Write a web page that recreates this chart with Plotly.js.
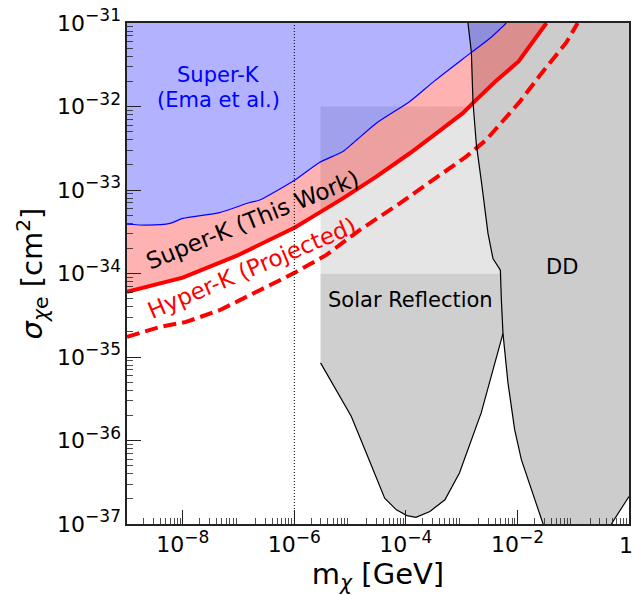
<!DOCTYPE html>
<html>
<head>
<meta charset="utf-8">
<script src="https://cdn.plot.ly/plotly-3.0.1.min.js"></script>
<style>html,body{margin:0;padding:0;background:#fff;}#chart{width:634px;height:595px;}</style>
</head>
<body>
<div id="chart"></div>
<script>
// ---- data (log10 values) ----
const emaLogM = [-9.0, -8.65, -8.23, -8.0, -7.34, -6.80, -6.62, -5.99, -5.55, -5.13, -4.95, -4.53, -3.93, -3.48, -2.86, -2.47, -2.20];
const emaLogS = [-33.41, -33.42, -33.40, -33.34, -33.27, -33.15, -33.12, -32.88, -32.67, -32.54, -32.44, -32.20, -31.94, -31.69, -31.37, -31.17, -31.0];

const skLogM = [-9.0, -8.0, -7.04, -5.99, -5.72, -5.13, -4.53, -3.93, -3.45, -2.98, -2.74, -2.38, -1.98, -1.72, -1.48];
const skLogS = [-34.22, -34.05, -33.79, -33.45, -33.34, -33.10, -32.84, -32.56, -32.32, -32.08, -31.92, -31.69, -31.46, -31.23, -31.0];

const hkLogM = [-9.0, -8.41, -7.94, -7.34, -6.62, -5.99, -5.43, -4.83, -4.11, -3.51, -2.92, -2.56, -1.96, -1.60, -1.12, -0.92];
const hkLogS = [-34.76, -34.64, -34.58, -34.44, -34.20, -33.99, -33.78, -33.48, -33.16, -32.88, -32.60, -32.40, -31.945, -31.63, -31.23, -31.0];

const solarBoxLogM = [-5.53, -2.26, -2.26, -5.53];
const solarBoxLogS = [-32.0, -32.0, -34.0, -34.0];

const solarULogM = [-5.53, -4.98, -4.71, -4.38, -4.17, -3.98, -3.82, -3.57, -3.30, -3.04, -2.65, -2.26];
const solarULogS = [-35.07, -35.71, -36.15, -36.69, -36.83, -36.90, -36.92, -36.85, -36.71, -36.39, -35.67, -34.72];
const solarUTopLogS = -34.0;

const ddLogM = [-2.887, -2.826, -2.797, -2.736, -2.646, -2.569, -2.528, -2.439, -2.306, -2.288, -2.259, -2.17, -2.05, -1.93, -1.72, -1.54];
const ddLogS = [-31.0, -31.35, -31.95, -32.46, -32.90, -33.30, -33.52, -33.82, -33.96, -34.32, -34.72, -35.31, -35.87, -36.23, -36.63, -37.0];
const ddCornerLogM = [-0.316, 0.0];
const ddCornerLogS = [-37.0, -36.67];

const vlineLogM = -6;

const xLabelDecades = [-8, -6, -4, -2];
const xTickLabels = ['10|−8', '10|−6', '10|−4', '10|−2'];
const xUnlabeledDecades = [-9, -7, -5, -3, -1, 0];
const xEndLabel = '1';
const yDecades = [-37, -36, -35, -34, -33, -32, -31];
const yTickLabels = ['10|−37', '10|−36', '10|−35', '10|−34', '10|−33', '10|−32', '10|−31'];

// ---- helpers ----
const P = v => Math.pow(10, v);
const arr = a => a.map(P);
const X_MIN = -9, X_MAX = 0, Y_MIN = -37, Y_MAX = -31;

function fmtTick(s) {
  if (s.indexOf('|') < 0) return s;
  const parts = s.split('|');
  return parts[0] + '<sup><span style="font-size:17px">' + parts[1] + '</span></sup>';
}

function minorVals(lo, hi) {
  const out = [];
  for (let d = lo; d < hi; d++) {
    for (let k = 2; k <= 9; k++) out.push(k * P(d));
  }
  return out;
}

const FONT = 'DejaVu Sans';
const traces = [];

// Solar reflection upper (light) box
traces.push({x: arr(solarBoxLogM), y: arr(solarBoxLogS), mode: 'none', fill: 'toself',
  fillcolor: '#e5e5e5', hoverinfo: 'skip', showlegend: false});
// Solar reflection lower U region
{
  const polyX = [P(solarULogM[0]), P(solarULogM[solarULogM.length - 1])].concat(arr(solarULogM).reverse());
  const polyY = [P(solarUTopLogS), P(solarUTopLogS)].concat(arr(solarULogS).reverse());
  traces.push({x: polyX, y: polyY, mode: 'none', fill: 'toself', fillcolor: '#cfcfcf',
    hoverinfo: 'skip', showlegend: false});
}
// DD region
{
  const polyX = arr(ddLogM).concat(arr(ddCornerLogM), [P(X_MAX)]);
  const polyY = arr(ddLogS).concat(arr(ddCornerLogS), [P(Y_MAX)]);
  traces.push({x: polyX, y: polyY, mode: 'none', fill: 'toself', fillcolor: '#cccccc',
    hoverinfo: 'skip', showlegend: false});
}
// Blue region (Ema et al.)
traces.push({x: arr(emaLogM).concat([P(X_MIN)]), y: arr(emaLogS).concat([P(Y_MAX)]),
  mode: 'none', fill: 'toself', fillcolor: 'rgba(0,0,255,0.3)', hoverinfo: 'skip', showlegend: false});
// Red band (this work)
traces.push({x: arr(skLogM).concat(arr(emaLogM).reverse()), y: arr(skLogS).concat(arr(emaLogS).reverse()),
  mode: 'none', fill: 'toself', fillcolor: 'rgba(255,0,0,0.3)', hoverinfo: 'skip', showlegend: false});

// Lines
traces.push({x: arr(emaLogM), y: arr(emaLogS), mode: 'lines', line: {color: '#0000ff', width: 1.2, shape: 'spline', smoothing: 0.6},
  hoverinfo: 'skip', showlegend: false});
traces.push({x: arr(skLogM), y: arr(skLogS), mode: 'lines', line: {color: '#ff0000', width: 4},
  hoverinfo: 'skip', showlegend: false});
traces.push({x: arr(hkLogM), y: arr(hkLogS), mode: 'lines', line: {color: '#ff0000', width: 4, dash: '13px,6px'},
  hoverinfo: 'skip', showlegend: false});
traces.push({x: arr(solarULogM), y: arr(solarULogS), mode: 'lines', line: {color: '#000', width: 1.2},
  hoverinfo: 'skip', showlegend: false});
traces.push({x: arr(ddLogM), y: arr(ddLogS), mode: 'lines', line: {color: '#000', width: 1.2},
  hoverinfo: 'skip', showlegend: false});
traces.push({x: arr(ddCornerLogM), y: arr(ddCornerLogS), mode: 'lines', line: {color: '#000', width: 1.2},
  hoverinfo: 'skip', showlegend: false});
traces.push({x: [P(vlineLogM), P(vlineLogM)], y: [P(Y_MIN), P(Y_MAX)], mode: 'lines',
  line: {color: '#000', width: 1, dash: '1px,2px'}, hoverinfo: 'skip', showlegend: false});

// ---- layout ----
const ML = 127, MR = 5, MT = 23, MB = 71, W = 634, H = 595;
const PW = W - ML - MR, PH = H - MT - MB;
const px = x => (x - ML) / PW;
const py = y => (H - MB - y) / PH;

function ann(text, x, y, size, color, angle) {
  return {text: text, xref: 'paper', yref: 'paper', x: px(x), y: py(y), xanchor: 'center', yanchor: 'middle',
    showarrow: false, textangle: angle || 0, font: {family: FONT, size: size, color: color}};
}

const axisCommon = {
  type: 'log', showgrid: false, zeroline: false, showline: true, mirror: true,
  linecolor: '#222', linewidth: 1.6, ticks: 'inside', ticklen: 14, tickwidth: 1, tickcolor: '#222',
  tickfont: {family: FONT, size: 22, color: '#000'}, tickmode: 'array'
};

const layout = {
  width: W, height: H, margin: {l: ML, r: MR, t: MT, b: MB},
  paper_bgcolor: '#fff', plot_bgcolor: '#fff', showlegend: false,
  xaxis: Object.assign({}, axisCommon, {
    range: [X_MIN, X_MAX], tickvals: arr(xLabelDecades), ticktext: xTickLabels.map(fmtTick),
    minor: {ticks: 'inside', ticklen: 6, tickwidth: 0.8, tickcolor: '#222', tickmode: 'array', tickvals: minorVals(X_MIN, X_MAX)},
    title: {text: 'm<sub><i>χ</i></sub> [GeV]', font: {family: FONT, size: 29, color: '#000'}, standoff: 6}
  }),
  xaxis2: {
    type: 'log', overlaying: 'x', anchor: 'y', side: 'bottom', range: [X_MIN, X_MAX],
    showgrid: false, zeroline: false, showline: false, showticklabels: false,
    ticks: 'inside', ticklen: 14, tickwidth: 1, tickcolor: '#222', tickmode: 'array', tickvals: arr(xUnlabeledDecades)
  },
  yaxis: Object.assign({}, axisCommon, {
    range: [Y_MIN, Y_MAX], tickvals: arr(yDecades), ticktext: yTickLabels.map(fmtTick),
    minor: {ticks: 'inside', ticklen: 6, tickwidth: 0.8, tickcolor: '#222', tickmode: 'array', tickvals: minorVals(Y_MIN, Y_MAX)},
    title: {text: '<i>σ</i><sub><i>χ</i>e</sub> [cm<sup>2</sup>]', font: {family: FONT, size: 29, color: '#000'}, standoff: 6}
  }),
  annotations: [
    ann('Super-K', 218.6, 75, 21, '#0000ff'),
    ann('(Ema et al.)', 218.6, 100, 21, '#0000ff'),
    ann('Super-K (This Work)', 252, 220, 23, '#000', -22),
    ann('Hyper-K (Projected)', 252, 268, 23, '#ff0000', -23),
    ann('Solar Reflection', 410.3, 300, 21, '#000'),
    ann('DD', 562, 267, 21, '#000'),
    ann(xEndLabel, 625.5, 545, 22, '#000')
  ]
};

Plotly.newPlot('chart', traces, layout, {displayModeBar: false, staticPlot: true});
</script>
</body>
</html>
